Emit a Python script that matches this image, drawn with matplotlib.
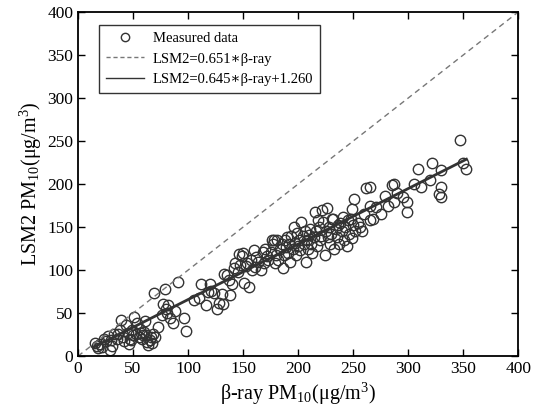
import numpy as np
import matplotlib
matplotlib.use("Agg")
import matplotlib.pyplot as plt
from matplotlib.lines import Line2D

plt.rcParams['font.family'] = ['Liberation Serif', 'DejaVu Serif']
plt.rcParams['mathtext.default'] = 'regular'

# beta-ray PM10 (x) vs LSM2 PM10 (y)
beta = [15, 17, 18, 20, 22, 24, 25, 27, 29, 30, 31, 33, 35, 36, 38, 39, 41, 42, 44, 45,
        46, 47, 48, 49, 50, 51, 53, 54, 55, 56, 57, 58, 59, 60, 61, 62, 63, 64, 65, 66,
        67, 68, 69, 70, 73, 76, 77, 79, 80, 81, 82, 84, 86, 88, 91, 96, 98,
        105, 110, 112, 116, 118, 120, 121, 124, 126, 128, 131, 132, 133, 135, 137, 138, 140, 142,
        143, 145, 146, 147, 149, 150, 151, 153, 154, 155, 157, 158, 160, 161, 162, 164, 166, 168,
        169, 170, 172, 173, 175, 176, 177, 178, 179, 180, 181,
        182, 184, 185, 186, 187, 188, 189, 190, 191, 192, 193, 194, 195, 196, 197, 198, 199, 200,
        201, 202, 203, 204, 205, 206, 207, 208, 209, 210, 211, 212, 213, 214, 215, 216, 217, 218,
        219, 220, 221, 222, 223, 224, 225, 226, 227, 228, 229, 230, 231, 232, 233, 234, 235, 236,
        237, 238, 240, 241, 242, 243, 244, 245, 246, 248, 249, 249, 250, 251, 252, 254, 256, 258,
        260, 262, 265, 265, 268, 271, 265, 275, 279, 282, 285, 287, 287, 290, 295, 299, 299, 305,
        309, 312, 320, 322, 328, 330, 330, 330, 347, 350, 353]
lsm2 = [15, 12, 9, 14, 11, 20, 17, 23, 7, 19, 12, 26, 20, 26, 30, 42, 22, 18, 36, 27,
        14, 20, 19, 30, 24, 45, 26, 38, 22, 32, 27, 20, 24, 28, 41, 24, 16, 13, 19, 22,
        15, 26, 73, 22, 34, 48, 61, 78, 55, 50, 59, 44, 39, 52, 86, 44, 29,
        65, 67, 84, 60, 75, 84, 76, 73, 55, 62, 72, 61, 96, 94, 88, 71, 84, 102,
        108, 98, 119, 106, 116, 120, 85, 105, 108, 80, 112, 100, 123, 104, 115, 110, 100, 121,
        108, 125, 116, 112, 121, 135, 130, 135, 108, 118, 135,
        112, 125, 130, 102, 118, 135, 127, 138, 120, 130, 110, 140, 125, 150, 132, 118, 143, 128,
        135, 123, 156, 140, 130, 146, 110, 135, 125, 141, 148, 130, 120, 138, 167, 145, 128, 158,
        150, 135, 140, 170, 156, 118, 145, 172, 138, 150, 130, 142, 160, 159, 125, 148, 138, 152,
        130, 155, 145, 162, 135, 150, 128, 158, 142, 160, 171, 137, 152, 183, 145, 155, 150, 146,
        165, 196, 174, 158, 160, 173, 197, 165, 186, 175, 199, 200, 179, 190, 185, 179, 168, 200,
        217, 197, 205, 225, 188, 216, 197, 185, 251, 225, 218]

slope, intercept = 0.645, 1.260
x_fit = np.array([min(beta), max(beta)])

fig, ax = plt.subplots(figsize=(5.42, 4.17), dpi=100)
fig.subplots_adjust(left=0.144, right=0.956, bottom=0.146, top=0.971)

ax.plot(beta, lsm2, 'o', mfc='none', mec='#333333', ms=7.5, mew=1.0)
ax.plot([0, 400], [0, 400], '--', color='#777777', lw=1.0, dashes=(4, 3))
ax.plot(x_fit, slope * x_fit + intercept, '-', color='#333333', lw=2.0)

ax.set_xlim(0, 400)
ax.set_ylim(0, 400)
ax.set_xticks(np.arange(0, 401, 50))
ax.set_yticks(np.arange(0, 401, 50))
ax.tick_params(direction='in', top=True, right=True, labelsize=12.5, length=5, width=1)
for s in ax.spines.values():
    s.set_linewidth(1.3)

ax.set_xlabel('\u03b2-ray PM$_{10}$(\u03bcg/m$^{3}$)', fontsize=14.5, labelpad=3)
ax.set_ylabel('LSM2 PM$_{10}$(\u03bcg/m$^{3}$)', fontsize=14.5, labelpad=2)

handles = [
    Line2D([], [], ls='none', marker='o', mfc='none', mec='#333333', ms=6, mew=1.0),
    Line2D([], [], ls='--', color='#777777', lw=1.0, dashes=(3, 2)),
    Line2D([], [], ls='-', color='#333333', lw=1.0),
]
labels = ['Measured data', 'LSM2=0.651\u2217\u03b2-ray', 'LSM2=0.645\u2217\u03b2-ray+1.260']
leg = ax.legend(handles, labels, loc='upper left', fontsize=10.5, fancybox=False,
                edgecolor='#333333', framealpha=1, handlelength=2.6, handletextpad=0.6,
                borderpad=0.5, labelspacing=0.5, bbox_to_anchor=(0.03, 0.985))
leg.get_frame().set_linewidth(1.0)

plt.savefig('out.png', dpi=100)
